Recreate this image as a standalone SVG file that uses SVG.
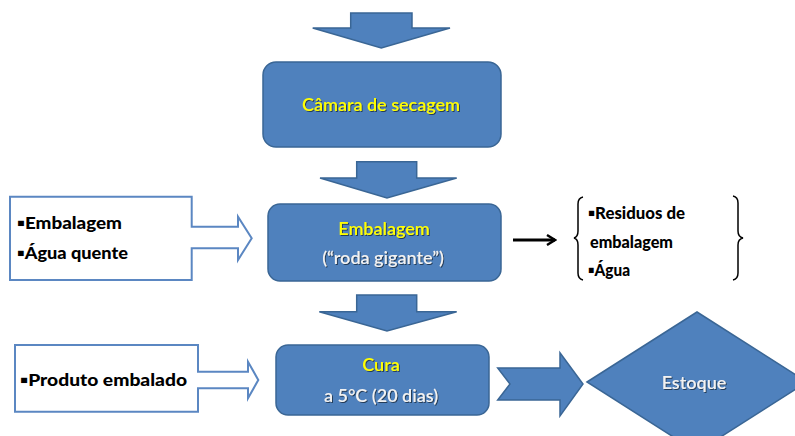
<svg xmlns="http://www.w3.org/2000/svg" width="795" height="436" viewBox="0 0 795 436">
  <defs>
    <filter id="shadow" x="-10%" y="-30%" width="120%" height="160%">
      <feDropShadow dx="1" dy="1" stdDeviation="0.6" flood-color="#1a2a40" flood-opacity="0.8"/>
    </filter>
    <marker id="open-head" viewBox="0 0 12 12" refX="10" refY="6" markerWidth="12" markerHeight="12" markerUnits="userSpaceOnUse" orient="auto">
      <path d="M2,1 L10,6 L2,11" fill="none" stroke="#000" stroke-width="2.4"/>
    </marker>
  </defs>
  <style>
    .blue { fill: #4F81BD; stroke: #3A6695; stroke-width: 1.5; }
    .outline { fill: #ffffff; stroke: #5B87C2; stroke-width: 2; }
    .title { font-family: Lato, "Liberation Sans", sans-serif; font-size: 18px; font-weight: 600; fill: #FFFF00; text-anchor: middle; filter: url(#shadow); }
    .sub { font-family: Lato, "Liberation Sans", sans-serif; font-size: 18px; font-weight: 600; fill: #F2F2F2; text-anchor: middle; filter: url(#shadow); }
    .list { font-family: Lato, "Liberation Sans", sans-serif; font-size: 17px; font-weight: 900; fill: #000; }
    .brace { fill: none; stroke: #000; stroke-width: 1.5; }
  </style>

  <rect width="795" height="436" fill="#ffffff"/>

  <g id="connectors">
    <!-- incoming block arrow at the top -->
    <path class="blue" d="M350.7,13 H412 V28 H450 L381.3,48 L312.7,28 H350.7 Z"/>
    <!-- drying chamber to packing -->
    <path class="blue" d="M356.7,161.7 H416.7 V178 H456.7 L387,198 L320,178 H356.7 Z"/>
    <!-- packing to curing -->
    <path class="blue" d="M356.7,295 H416.7 V311.7 H456.7 L387,331 L319.3,311.7 H356.7 Z"/>
    <!-- curing to stock (notched arrow) -->
    <path class="blue" d="M497.7,368 H560 V352.7 L583,384 L560,416 V400 H497.7 L510,384 Z"/>
    <!-- packing outputs -->
    <line x1="513" y1="240" x2="555" y2="240" stroke="#000" stroke-width="3" marker-end="url(#open-head)"/>
  </g>

  <g id="node-camara">
    <rect class="blue" x="263" y="62" width="238" height="85" rx="13"/>
    <text class="title" x="381" y="111">Câmara de secagem</text>
  </g>

  <g id="node-embalagem">
    <rect class="blue" x="268" y="204" width="233" height="77" rx="12"/>
    <text class="title" x="384" y="235">Embalagem</text>
    <text class="sub" x="383" y="264">(“roda gigante”)</text>
  </g>

  <g id="node-cura">
    <rect class="blue" x="276" y="345" width="213" height="70" rx="12"/>
    <text class="title" x="381" y="371">Cura</text>
    <text class="sub" x="381" y="402">a 5°C (20 dias)</text>
  </g>

  <g id="node-estoque">
    <path class="blue" d="M587,382 L697,312 L807,382 L697,452 Z"/>
    <text class="sub" x="694" y="389">Estoque</text>
  </g>

  <g id="node-entrada-embalagem">
    <path class="outline" d="M10,196.7 H191.7 V226.7 H238 V216.7 L251.7,238.3 L238,260 V248.3 H191.7 V280 H10 Z"/>
    <text class="list" x="17" y="229" textLength="105" lengthAdjust="spacingAndGlyphs">▪Embalagem</text>
    <text class="list" x="17" y="259" textLength="111" lengthAdjust="spacingAndGlyphs">▪Água quente</text>
  </g>

  <g id="node-entrada-produto">
    <path class="outline" d="M15,345 H198 V371.7 H248 V361.7 L258.3,380 L248,398.3 V388.3 H198 V411.7 H15 Z"/>
    <text class="list" x="20" y="386" textLength="167" lengthAdjust="spacingAndGlyphs">▪Produto embalado</text>
  </g>

  <g id="node-residuos">
    <path class="brace" d="M583,197 Q578,198 578,204 V231 Q578,237 574,238 Q578,239 578,245 V273 Q578,279 583,280"/>
    <path class="brace" d="M733,196 Q738,197 738,203 V231 Q738,237 743,238 Q738,239 738,245 V273 Q738,279 733,280"/>
    <text class="list" x="588" y="219" font-size="15" textLength="97" lengthAdjust="spacingAndGlyphs">▪Residuos de</text>
    <text class="list" x="590" y="248" font-size="15" textLength="83" lengthAdjust="spacingAndGlyphs">embalagem</text>
    <text class="list" x="588" y="276" font-size="15" textLength="42" lengthAdjust="spacingAndGlyphs">▪Água</text>
  </g>
</svg>
